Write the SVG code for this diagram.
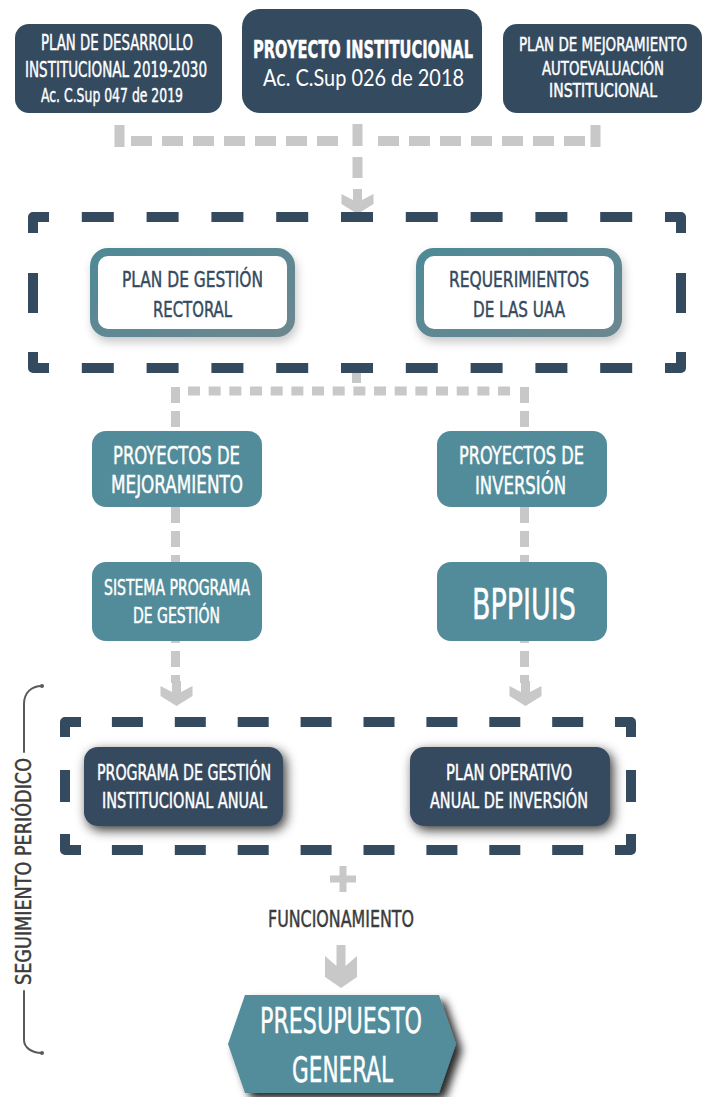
<svg xmlns="http://www.w3.org/2000/svg" width="702" height="1097" viewBox="0 0 702 1097">
<style>
.t{font-family:'Liberation Sans Narrow','DejaVu Sans Condensed','Liberation Sans',sans-serif;text-anchor:middle;fill:#ffffff;stroke:#ffffff;stroke-width:0.45}
.h{font-family:Lato,'Open Sans','Liberation Sans',sans-serif;text-anchor:middle;fill:#ffffff}
.dk{fill:#344a5f}
.tl{fill:#528c9a}
.ink{fill:#3b3b3b;stroke:#3b3b3b}
.nv{fill:#344a5f;stroke:#344a5f}
.frame{fill:none;stroke:#344a5f;stroke-width:10;stroke-linejoin:round}
.conn{fill:none;stroke:#c8c8c8}
.arr{fill:#c8c8c8}
.wb{fill:#ffffff;stroke:url(#gb);stroke-width:8}
.br{fill:none;stroke:#5a5a5a;stroke-width:2;stroke-linecap:round}
</style>
<defs>
<linearGradient id="gb" x1="0" y1="0" x2="1" y2="1">
<stop offset="0" stop-color="#4e8a96"/>
<stop offset="1" stop-color="#6c8790"/>
</linearGradient>
<filter id="shL" x="-20%" y="-20%" width="140%" height="150%">
<feDropShadow dx="2" dy="5" stdDeviation="5" flood-color="#000" flood-opacity="0.22"/>
</filter>
<filter id="shD" x="-20%" y="-20%" width="140%" height="150%">
<feDropShadow dx="3" dy="4" stdDeviation="6" flood-color="#000" flood-opacity="0.8"/>
</filter>
<filter id="shH" x="-20%" y="-20%" width="140%" height="150%">
<feDropShadow dx="6" dy="6" stdDeviation="4" flood-color="#000" flood-opacity="0.85"/>
</filter>
<path id="arS" d="M-4.5,-24 H4.5 V-13 L16,-19 V-9 L0,1 L-16,-9 V-19 L-4.5,-13 Z"/>
<path id="arB" d="M-4.5,-43 H4.5 V-22 L16,-32 V-11 L0,0 L-16,-11 V-32 L-4.5,-22 Z"/>
</defs>

<g id="connectors">
<path class="conn" stroke-width="10" d="M119.5,125 V147 M357.5,124 V146 M595.5,125 V147 M357.5,157 V178"/>
<path class="conn" stroke-width="10" stroke-dasharray="21 10" d="M131,141 H338 M378,141 H585"/>
<use href="#arS" class="arr" x="357.5" y="213"/>
<path class="conn" stroke-width="9" d="M356.5,370 V383"/>
<path class="conn" stroke-width="9" stroke-dasharray="12 8.67" d="M188,391 H512"/>
<path class="conn" stroke-width="9" stroke-dasharray="16 8" d="M175.5,387 V683 M524.5,387 V683"/>
<use href="#arS" class="arr" x="176.5" y="705"/>
<use href="#arS" class="arr" x="525.5" y="705"/>
<path class="conn" stroke-width="7" d="M330,879 H356 M343,866 V892"/>
<use href="#arB" class="arr" x="341" y="988"/>
</g>

<g id="frame-planning">
<path class="frame" d="M33,233 V217 H49 M665,217 H681 V233 M681,352 V368 H665 M49,368 H33 V352 M33,273 V313 M681,273 V313"/>
<path class="frame" stroke-dasharray="32 32.8" stroke-dashoffset="16" d="M33,217 H681 M33,368 H681"/>
</g>

<g id="frame-annual">
<path class="frame" d="M65,737 V722 H81 M615,722 H631 V737 M631,834 V850 H615 M81,850 H65 V834 M65,770 V802 M631,770 V802"/>
<path class="frame" stroke-dasharray="31 31.9" stroke-dashoffset="16" d="M65,722 H631 M65,850 H631"/>
</g>

<g id="n-plan-desarrollo">
<rect class="dk" x="15" y="24" width="207" height="89" rx="14"/>
<text class="t" x="117" y="50" font-size="22" textLength="152" lengthAdjust="spacingAndGlyphs">PLAN DE DESARROLLO</text>
<text class="t" x="116" y="77" font-size="22" textLength="182" lengthAdjust="spacingAndGlyphs">INSTITUCIONAL 2019-2030</text>
<text class="t" x="112" y="102" font-size="20" textLength="142" lengthAdjust="spacingAndGlyphs">Ac. C.Sup 047 de 2019</text>
</g>

<g id="n-proyecto-institucional">
<rect class="dk" x="242" y="9" width="240" height="104" rx="18"/>
<text class="t" x="363" y="58" font-size="25" font-weight="bold" textLength="220" lengthAdjust="spacingAndGlyphs">PROYECTO INSTITUCIONAL</text>
<text class="h" x="363.5" y="86" font-size="24" textLength="201" lengthAdjust="spacingAndGlyphs">Ac. C.Sup 026 de 2018</text>
</g>

<g id="n-plan-mejoramiento">
<rect class="dk" x="503" y="24" width="199" height="89" rx="14"/>
<text class="t" x="603" y="51" font-size="19" textLength="168" lengthAdjust="spacingAndGlyphs">PLAN DE MEJORAMIENTO</text>
<text class="t" x="603" y="75" font-size="19" textLength="122" lengthAdjust="spacingAndGlyphs">AUTOEVALUACIÓN</text>
<text class="t" x="603" y="97" font-size="19" textLength="108" lengthAdjust="spacingAndGlyphs">INSTITUCIONAL</text>
</g>

<g id="n-plan-gestion-rectoral">
<rect class="wb" x="94" y="252" width="197" height="81" rx="14" filter="url(#shL)"/>
<text class="t nv" x="192.5" y="287" font-size="22" textLength="141" lengthAdjust="spacingAndGlyphs">PLAN DE GESTIÓN</text>
<text class="t nv" x="192.5" y="317" font-size="22" textLength="79" lengthAdjust="spacingAndGlyphs">RECTORAL</text>
</g>

<g id="n-requerimientos">
<rect class="wb" x="420" y="252" width="198" height="81" rx="14" filter="url(#shL)"/>
<text class="t nv" x="519" y="287" font-size="22" textLength="140" lengthAdjust="spacingAndGlyphs">REQUERIMIENTOS</text>
<text class="t nv" x="519" y="317" font-size="22" textLength="92" lengthAdjust="spacingAndGlyphs">DE LAS UAA</text>
</g>

<g id="n-proyectos-mejoramiento">
<rect class="tl" x="92" y="431" width="170" height="76" rx="14"/>
<text class="t" x="176.5" y="464" font-size="25" textLength="127" lengthAdjust="spacingAndGlyphs">PROYECTOS DE</text>
<text class="t" x="177" y="493" font-size="25" textLength="132" lengthAdjust="spacingAndGlyphs">MEJORAMIENTO</text>
</g>

<g id="n-proyectos-inversion">
<rect class="tl" x="437" y="431" width="170" height="76" rx="14"/>
<text class="t" x="521.5" y="464" font-size="25" textLength="125" lengthAdjust="spacingAndGlyphs">PROYECTOS DE</text>
<text class="t" x="520.5" y="494" font-size="25" textLength="91" lengthAdjust="spacingAndGlyphs">INVERSIÓN</text>
</g>

<g id="n-sistema-programa">
<rect class="tl" x="92" y="562" width="170" height="79" rx="14"/>
<text class="t" x="177" y="595" font-size="21" textLength="146" lengthAdjust="spacingAndGlyphs">SISTEMA PROGRAMA</text>
<text class="t" x="176.5" y="623" font-size="21" textLength="87" lengthAdjust="spacingAndGlyphs">DE GESTIÓN</text>
</g>

<g id="n-bppiuis">
<rect class="tl" x="437" y="562" width="170" height="79" rx="14"/>
<text class="t" x="524" y="619" font-size="43" textLength="104" lengthAdjust="spacingAndGlyphs">BPPIUIS</text>
</g>

<g id="n-programa-gestion-anual">
<rect class="dk" x="84" y="747" width="199" height="79" rx="14" filter="url(#shD)"/>
<text class="t" x="184" y="780" font-size="22" textLength="174" lengthAdjust="spacingAndGlyphs">PROGRAMA DE GESTIÓN</text>
<text class="t" x="184.5" y="808" font-size="22" textLength="165" lengthAdjust="spacingAndGlyphs">INSTITUCIONAL ANUAL</text>
</g>

<g id="n-plan-operativo">
<rect class="dk" x="410" y="747" width="200" height="79" rx="14" filter="url(#shD)"/>
<text class="t" x="509" y="780" font-size="22" textLength="126" lengthAdjust="spacingAndGlyphs">PLAN OPERATIVO</text>
<text class="t" x="509" y="808" font-size="22" textLength="158" lengthAdjust="spacingAndGlyphs">ANUAL DE INVERSIÓN</text>
</g>

<g id="n-funcionamiento">
<text class="t ink" x="341" y="927" font-size="23" textLength="146" lengthAdjust="spacingAndGlyphs">FUNCIONAMIENTO</text>
</g>

<g id="n-presupuesto">
<polygon class="tl" points="245,995 439,995 456,1044 439,1093 245,1093 228,1044" filter="url(#shH)"/>
<text class="t" x="341" y="1033" font-size="36" textLength="162" lengthAdjust="spacingAndGlyphs">PRESUPUESTO</text>
<text class="t" x="342.5" y="1082" font-size="36" textLength="101" lengthAdjust="spacingAndGlyphs">GENERAL</text>
</g>

<g id="n-seguimiento">
<path class="br" d="M42,686 C31,686 24,693 24,704 V752 M24,991 V1040 C24,1047 31,1053 42,1053"/>
<circle cx="42" cy="686" r="2" fill="#5a5a5a"/>
<circle cx="42" cy="1053" r="2" fill="#5a5a5a"/>
<text class="t ink" transform="translate(31,871.5) rotate(-90)" font-size="22" textLength="227" lengthAdjust="spacingAndGlyphs">SEGUIMIENTO PERIÓDICO</text>
</g>
</svg>
